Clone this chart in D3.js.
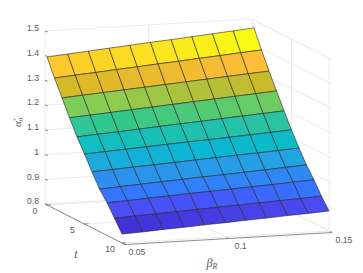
<!DOCTYPE html>
<html>
<head>
<style>
  html, body { margin: 0; padding: 0; background: #fff; }
  svg { display: block; }
  text { font-family: "Liberation Sans", Arial, sans-serif; fill: #5a5a5a; font-size: 8.7px; }
</style>
</head>
<body>
<svg width="363" height="273"></svg>
<script src="https://d3js.org/d3.v7.min.js"></script>
<script>
const betaValues = [0.05, 0.06, 0.07, 0.08, 0.09, 0.10, 0.11, 0.12, 0.13, 0.14, 0.15];
const tValues = [0, 1, 2, 3, 4, 5, 6, 7, 8, 9, 10];
// one list per t, read along beta
const z0 = [1.399, 1.406, 1.413, 1.420, 1.427, 1.434, 1.440, 1.447, 1.454, 1.461, 1.468];
const z1 = [1.329, 1.336, 1.342, 1.349, 1.355, 1.362, 1.368, 1.375, 1.381, 1.388, 1.394];
const z2 = [1.264, 1.270, 1.276, 1.282, 1.288, 1.294, 1.300, 1.306, 1.312, 1.318, 1.324];
const z3 = [1.199, 1.205, 1.211, 1.217, 1.223, 1.229, 1.235, 1.241, 1.247, 1.253, 1.259];
const z4 = [1.137, 1.143, 1.148, 1.154, 1.160, 1.166, 1.171, 1.177, 1.183, 1.188, 1.194];
const z5 = [1.083, 1.088, 1.093, 1.098, 1.103, 1.108, 1.112, 1.117, 1.122, 1.127, 1.132];
const z6 = [1.026, 1.031, 1.036, 1.040, 1.045, 1.050, 1.055, 1.060, 1.064, 1.069, 1.074];
const z7 = [0.972, 0.977, 0.982, 0.987, 0.992, 0.997, 1.001, 1.006, 1.011, 1.016, 1.021];
const z8 = [0.932, 0.936, 0.941, 0.945, 0.950, 0.954, 0.958, 0.963, 0.967, 0.972, 0.976];
const z9 = [0.885, 0.889, 0.893, 0.897, 0.901, 0.905, 0.909, 0.913, 0.917, 0.921, 0.925];
const z10 = [0.836, 0.840, 0.845, 0.849, 0.854, 0.858, 0.863, 0.867, 0.872, 0.876, 0.881];
const zRows = [z0, z1, z2, z3, z4, z5, z6, z7, z8, z9, z10];

const zTicks = [0.8, 0.9, 1, 1.1, 1.2, 1.3, 1.4, 1.5];
const tTicks = [0, 5, 10];
const betaTicks = [0.05, 0.1, 0.15];

// box limits, a little wider than the data the way the picture has it
const tLim = [-0.27, 10.4];
const betaLim = [0.05, 0.15];
const zLim = [0.8, 1.5];

// oblique view: each data axis gets its own screen scale
const xFromBeta = d3.scaleLinear().domain([0.05, 0.15]).range([0, 207]);
const xFromT = d3.scaleLinear().domain([0, 10]).range([47, 122]);
const yFromBeta = d3.scaleLinear().domain([0.05, 0.15]).range([0, -12]);
const yFromT = d3.scaleLinear().domain([0, 10]).range([205, 243]);
const yFromZ = d3.scaleLinear().domain([0.8, 1.5]).range([0, -173]);

const px = (b, t) => xFromBeta(b) + xFromT(t);
const py = (b, t, z) => yFromBeta(b) + yFromT(t) + yFromZ(z);

// colours sampled from the surface itself, by height
const surfaceColor = d3.scaleLinear()
  .domain([0.885, 0.921, 0.95, 0.975, 1.02, 1.07, 1.11, 1.14, 1.19, 1.21, 1.25, 1.27, 1.32, 1.335, 1.39, 1.405, 1.46])
  .range(["#4132d7", "#4b4bf0", "#4655fa", "#3278ff", "#2d8cf0", "#23a5e1", "#0ab9d2", "#0fbebe", "#2dc3a0", "#32c88c",
          "#69cd64", "#87cd55", "#cdb928", "#dcb928", "#ffbe37", "#fccd28", "#f9fb15"])
  .clamp(true);

const svg = d3.select("svg");
const line3 = (a, b) => `M${px(a[0], a[1])},${py(a[0], a[1], a[2])}L${px(b[0], b[1])},${py(b[0], b[1], b[2])}`;

// back walls and floor grid
const grid = svg.append("g").attr("fill", "none").attr("stroke", "#e6e6e6").attr("stroke-width", 0.8);
zTicks.forEach(z => {
  grid.append("path").attr("d", line3([betaLim[0], tLim[0], z], [betaLim[1], tLim[0], z]));
  grid.append("path").attr("d", line3([betaLim[1], tLim[0], z], [betaLim[1], tLim[1], z]));
});
betaTicks.forEach(b => {
  grid.append("path").attr("d", line3([b, tLim[0], zLim[0]], [b, tLim[0], zLim[1]]));
  grid.append("path").attr("d", line3([b, tLim[0], zLim[0]], [b, tLim[1], zLim[0]]));
});
tTicks.forEach(t => {
  grid.append("path").attr("d", line3([betaLim[1], t, zLim[0]], [betaLim[1], t, zLim[1]]));
  grid.append("path").attr("d", line3([betaLim[0], t, zLim[0]], [betaLim[1], t, zLim[0]]));
});

// surface, back rows first
const cells = [];
tValues.slice(0, -1).forEach((t, i) => {
  betaValues.slice(0, -1).forEach((b, j) => {
    cells.push({ i, j });
  });
});
svg.append("g").selectAll("path")
  .data(cells)
  .enter().append("path")
  .attr("d", d => {
    const corners = [[d.i, d.j], [d.i, d.j + 1], [d.i + 1, d.j + 1], [d.i + 1, d.j]];
    return "M" + corners.map(c => {
      const b = betaValues[c[1]], t = tValues[c[0]];
      return [px(b, t), py(b, t, zRows[c[0]][c[1]])].join(",");
    }).join("L") + "Z";
  })
  .attr("fill", d => surfaceColor(zRows[d.i][d.j]))
  .attr("stroke", "#262626")
  .attr("stroke-width", 0.6)
  .attr("stroke-linejoin", "round");

// axis lines
const axes = svg.append("g").attr("fill", "none").attr("stroke", "#707070").attr("stroke-width", 0.8);
axes.append("path").attr("d", line3([betaLim[0], tLim[0], zLim[0]], [betaLim[0], tLim[1], zLim[0]]));
axes.append("path").attr("d", line3([betaLim[0], tLim[1], zLim[0]], [betaLim[1], tLim[1], zLim[0]]));

// ticks
const tickLen = 3;
zTicks.forEach(z => {
  const x0 = px(betaLim[0], tLim[0]), y0 = py(betaLim[0], tLim[0], z);
  axes.append("path").attr("d", `M${x0},${y0}L${x0 + tickLen},${y0 + 1}`);
  svg.append("text").attr("x", x0 - 6).attr("y", y0 - 2).attr("text-anchor", "end")
    .attr("dominant-baseline", "middle").text(d3.format("~g")(z));
});
tTicks.forEach(t => {
  const x0 = px(betaLim[0], t), y0 = py(betaLim[0], t, zLim[0]);
  axes.append("path").attr("d", `M${x0},${y0}L${x0 + 4},${y0 - 0.3}`);
  svg.append("text").attr("x", x0 - 12).attr("y", y0 + 7).attr("text-anchor", "middle")
    .attr("dominant-baseline", "middle").text(t);
});
betaTicks.forEach(b => {
  const x0 = px(b, tLim[1]), y0 = py(b, tLim[1], zLim[0]);
  axes.append("path").attr("d", `M${x0},${y0}L${x0 - 2},${y0 - 1}`);
  svg.append("text").attr("x", x0 + 12).attr("y", y0 + 8).attr("text-anchor", "middle")
    .attr("dominant-baseline", "middle").text(d3.format("~g")(b));
});

// axis titles
svg.append("text").attr("x", 76).attr("y", 258).attr("text-anchor", "middle")
  .style("font-family", "'Liberation Serif', serif").style("font-style", "italic").style("font-size", "12px").text("t");
const betaLabel = svg.append("text").attr("x", 212).attr("y", 267).attr("text-anchor", "middle")
  .style("font-family", "'Liberation Serif', serif").style("font-style", "italic").style("font-size", "12px");
betaLabel.append("tspan").text("β");
betaLabel.append("tspan").attr("dy", 2).style("font-size", "8px").text("R");
const zLabel = svg.append("text").attr("transform", "translate(21,122) rotate(-90)").attr("text-anchor", "middle")
  .style("font-family", "'Liberation Serif', serif").style("font-style", "italic").style("font-size", "11px");
zLabel.append("tspan").text("α");
zLabel.append("tspan").attr("dy", 2).style("font-size", "7px").text("0");
zLabel.append("tspan").attr("dx", -4).attr("dy", -6).style("font-size", "7px").text("+");
</script>
</body>
</html>
